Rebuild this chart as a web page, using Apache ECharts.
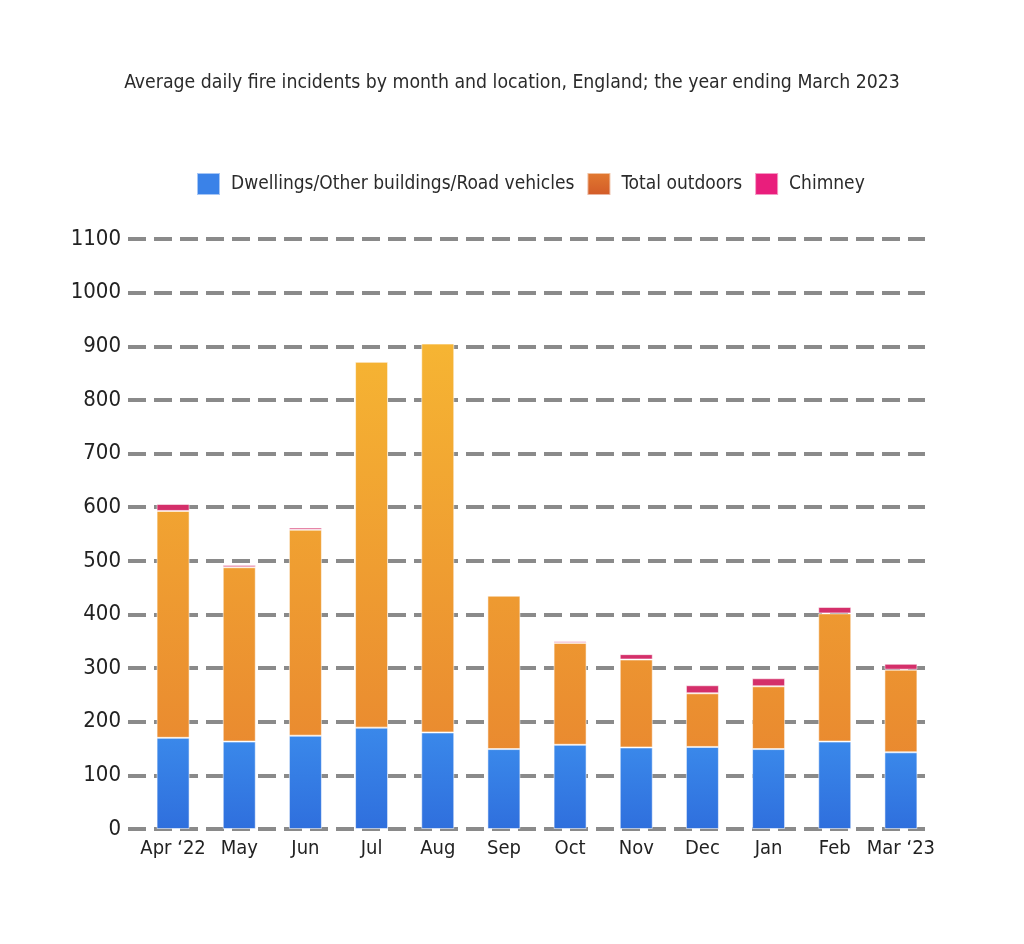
<!DOCTYPE html>
<html>
<head>
<meta charset="utf-8">
<title>Average daily fire incidents</title>
<script src="https://cdn.jsdelivr.net/npm/echarts@6/dist/echarts.min.js"></script>
<style>
  html, body { margin: 0; padding: 0; background: #fff; }
  #chart { width: 1024px; height: 944px; }
</style>
</head>
<body>
<div id="chart"></div>
<script>
// months on the x axis
var months = ['Apr \u201822', 'May', 'Jun', 'Jul', 'Aug', 'Sep', 'Oct', 'Nov', 'Dec', 'Jan', 'Feb', 'Mar \u201823'];
// average daily incidents
var buildings = [170, 163, 174, 189, 180, 149, 157, 152, 153, 149, 163, 143];
var outdoors  = [423, 325, 384, 682, 725, 286, 190, 164, 100, 117, 239, 154];
var chimney   = [13, 4, 4, 1, 1, 1, 3, 10, 15, 15, 12, 11];
var seriesNames = ['Dwellings/Other buildings/Road vehicles', 'Total outdoors', 'Chimney'];

var FONT = '"Liberation Sans Narrow", "DejaVu Sans Condensed", sans-serif';

var chart = echarts.init(document.getElementById('chart'));

var border = { borderColor: 'rgba(255,255,255,0.55)', borderWidth: 1 };

var option = {
    backgroundColor: '#fff',
    animation: false,
    title: {
        text: 'Average daily fire incidents by month and location, England; the year ending March 2023',
        left: 'center',
        top: 68,
        textStyle: { fontFamily: FONT, fontSize: 19.3, fontWeight: 'normal', color: '#2b2b2b' }
    },
    legend: {
        left: 191,
        top: 167,
        itemWidth: 23,
        itemHeight: 22,
        itemGap: 12,
        icon: 'rect',
        textStyle: { fontFamily: FONT, fontSize: 19, color: '#2b2b2b', padding: [0, 0, 0, 6] },
        data: [
            { name: seriesNames[0], itemStyle: { color: '#3a82e8' } },
            { name: seriesNames[1], itemStyle: { color: new echarts.graphic.LinearGradient(0, 0, 0, 1, [
                { offset: 0, color: '#e27a30' }, { offset: 1, color: '#d25a28' }]) } },
            { name: seriesNames[2], itemStyle: { color: '#e91e7c' } }
        ]
    },
    grid: [
        // grid 0 only carries the dashed lines and y labels
        { left: 128, right: 99, top: 239, bottom: 115 },
        // grid 1 carries the bars
        { left: 140, width: 794, top: 239, bottom: 115 }
    ],
    xAxis: [
        { gridIndex: 0, type: 'value', show: false },
        {
            gridIndex: 1,
            type: 'category',
            data: months,
            axisLine: { show: false },
            axisTick: { show: false },
            axisLabel: { interval: 0, fontFamily: FONT, fontSize: 20, color: '#222', margin: 10 }
        }
    ],
    yAxis: [
        {
            gridIndex: 0,
            type: 'value',
            min: 0,
            max: 1100,
            interval: 100,
            axisLine: { show: false },
            axisTick: { show: false },
            axisLabel: {
                fontFamily: FONT, fontSize: 22, color: '#222', margin: 7,
                formatter: function (v) { return String(v); }
            },
            splitLine: { lineStyle: { color: '#8a8a8a', width: 4, type: [18, 8] } }
        },
        {
            gridIndex: 1,
            type: 'value',
            min: 0,
            max: 1100,
            show: false,
            splitLine: { show: false }
        }
    ],
    series: [
        {
            name: seriesNames[0],
            type: 'bar',
            stack: 'total',
            xAxisIndex: 1,
            yAxisIndex: 1,
            barWidth: 33,
            data: buildings,
            itemStyle: Object.assign({
                color: new echarts.graphic.LinearGradient(0, 0, 0, 1, [
                    { offset: 0, color: '#3a88ea' },
                    { offset: 1, color: '#2f6fdd' }
                ])
            }, border)
        },
        {
            name: seriesNames[1],
            type: 'bar',
            stack: 'total',
            xAxisIndex: 1,
            yAxisIndex: 1,
            barWidth: 33,
            data: outdoors,
            itemStyle: Object.assign({
                // gradient in page pixels so taller bars get more yellow
                color: new echarts.graphic.LinearGradient(0, 340, 0, 829, [
                    { offset: 0, color: '#f6b533' },
                    { offset: 1, color: '#e7822f' }
                ], true)
            }, border)
        },
        {
            name: seriesNames[2],
            type: 'bar',
            stack: 'total',
            xAxisIndex: 1,
            yAxisIndex: 1,
            barWidth: 33,
            data: chimney,
            itemStyle: Object.assign({ color: '#d42f6a' }, border)
        }
    ]
};

chart.setOption(option);
</script>
</body>
</html>
